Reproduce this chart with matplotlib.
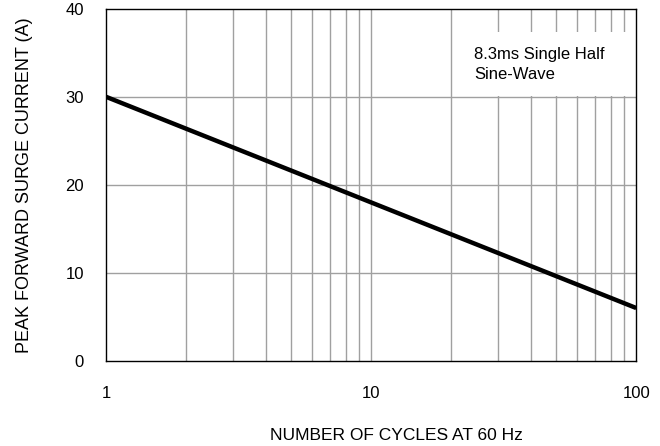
import matplotlib.pyplot as plt
from matplotlib.patches import Rectangle
import numpy as np

plt.rcParams['font.family'] = ['Liberation Sans', 'DejaVu Sans']

cycles = [1, 100]
current = [30, 6]
x_ticks = [1, 10, 100]
y_ticks = [0, 10, 20, 30, 40]
note = "8.3ms Single Half\nSine-Wave"

fig = plt.figure(figsize=(6.6, 4.46), dpi=100)
ax = fig.add_axes([0.161, 0.191, 0.803, 0.789])

ax.set_xscale("log")
ax.set_xlim(1, 100)
ax.set_ylim(0, 40)

# Raster: alle Dekaden-Teilstriche
minor = [m * d for d in (1, 10) for m in range(2, 10)]
for xv in minor + [10]:
    ax.axvline(xv, color="#a0a0a0", lw=1, zorder=1)
for yv in [10, 20, 30]:
    ax.axhline(yv, color="#a0a0a0", lw=1, zorder=1)

# weisser Hintergrund fuer die Beschriftung
ax.add_patch(Rectangle((23.2, 30.15), 96.6 - 23.2, 7.2, facecolor="white",
                       edgecolor="none", zorder=2))
ax.text(24.5, 33.7, note, fontsize=12, va="center", ha="left", zorder=3,
        linespacing=1.4)

ax.plot(cycles, current, color="black", lw=3.2, zorder=4, solid_capstyle="butt")

ax.set_xticks(x_ticks)
ax.set_xticklabels([str(v) for v in x_ticks])
ax.xaxis.set_minor_locator(plt.NullLocator())
ax.set_yticks(y_ticks)
ax.tick_params(axis="both", length=0, labelsize=12)
ax.tick_params(axis="x", pad=18)
ax.tick_params(axis="y", pad=16)

for s in ax.spines.values():
    s.set_color("black")
    s.set_linewidth(1)

ax.set_xlabel("NUMBER OF CYCLES AT 60 Hz", fontsize=12.5, labelpad=16)
ax.xaxis.set_label_coords(0.547, -0.192)
ax.set_ylabel("PEAK FORWARD SURGE CURRENT (A)", fontsize=13, labelpad=23)

fig.savefig("out.png", dpi=100)
